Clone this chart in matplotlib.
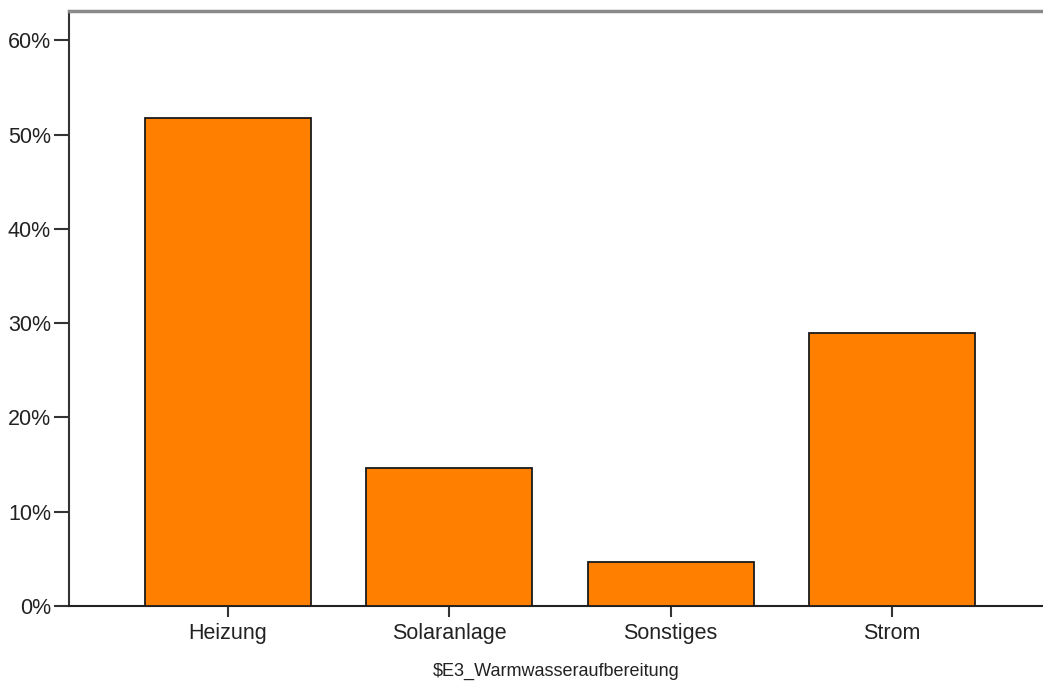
import matplotlib
matplotlib.use("Agg")
from matplotlib import pyplot as plt
from matplotlib.ticker import FuncFormatter

categories = ["Heizung", "Solaranlage", "Sonstiges", "Strom"]
percent = [51.8, 14.6, 4.7, 29.0]
yticks = [0, 10, 20, 30, 40, 50, 60]
xlabel = "\\$E3_Warmwasseraufbereitung"

plt.rcParams["font.family"] = ["Liberation Sans", "DejaVu Sans"]

fig = plt.figure(figsize=(10.43, 6.86), dpi=100)
ax = fig.add_axes([69 / 1043, 1 - 606 / 686, 1 - 69 / 1043, (606 - 11) / 686])

pos = list(range(len(categories)))
ax.bar(pos, percent, width=0.75, color="#FF8000", edgecolor="#1a1a1a", linewidth=1.3, zorder=3)

ax.set_xlim(-0.718, 3.683)
ax.set_ylim(0, 63.1)
ax.set_yticks(yticks)
ax.yaxis.set_major_formatter(FuncFormatter(lambda v, p: "{:.0f}%".format(v)))
ax.set_xticks(pos)
ax.set_xticklabels(categories)

ax.tick_params(axis="y", direction="out", length=11, width=1.5, color="#333333",
               labelsize=15.5, labelcolor="#222222", pad=2)
ax.tick_params(axis="x", direction="out", length=8, width=1.5, color="#333333",
               labelsize=15.5, labelcolor="#222222", pad=4)

ax.spines["right"].set_visible(False)
ax.spines["left"].set_color("#333333")
ax.spines["left"].set_linewidth(1.5)
ax.spines["bottom"].set_color("#222222")
ax.spines["bottom"].set_linewidth(1.5)
ax.spines["top"].set_color("#8a8a8a")
ax.spines["top"].set_linewidth(2.5)

ax.set_xlabel(xlabel, fontsize=13, color="#222222", labelpad=14)

fig.savefig("out.png", dpi=100)
